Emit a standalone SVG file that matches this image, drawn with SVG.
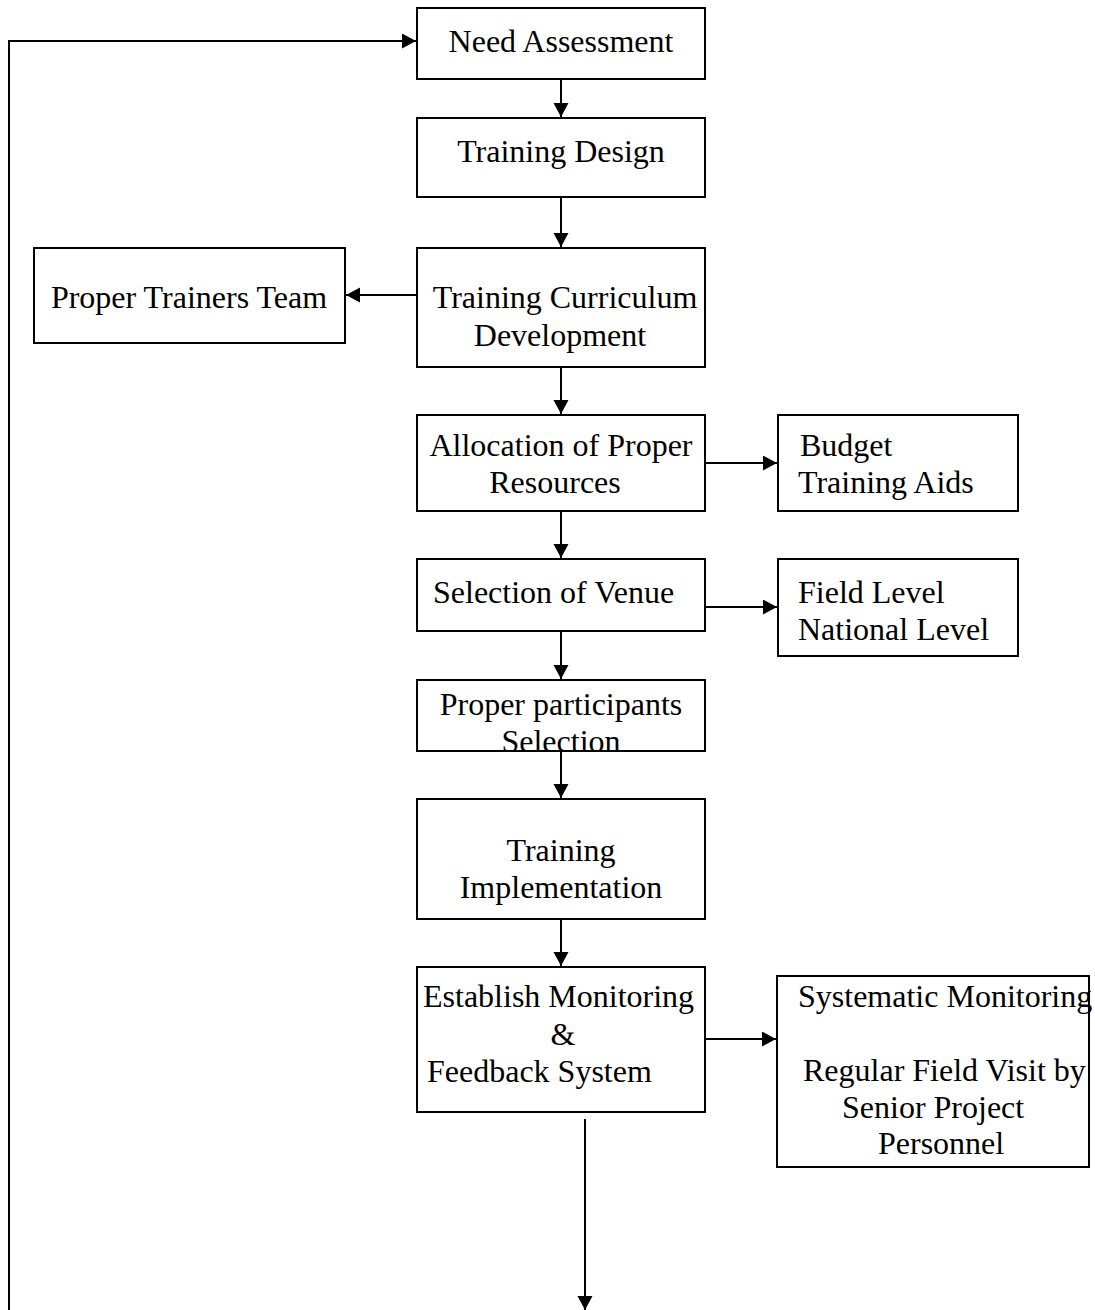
<svg xmlns="http://www.w3.org/2000/svg" width="1095" height="1310" viewBox="0 0 1095 1310">
<style>
.box{fill:#fff;stroke:#000;stroke-width:2}
.t{font-family:"Liberation Serif","Times New Roman",serif;font-size:32px;fill:#000}
.c{text-anchor:middle}
.ln{fill:none;stroke:#000;stroke-width:2}
</style>
<defs>
<marker id="ah" markerUnits="userSpaceOnUse" markerWidth="16" markerHeight="16" refX="14" refY="7.5" orient="auto">
<path d="M0,0 L14,7.5 L0,15 Z" fill="#000"/>
</marker>
</defs>
<rect width="1095" height="1310" fill="#fff"/>
<g id="connectors">
<polyline class="ln" points="9,1310 9,41 416,41" marker-end="url(#ah)"/>
<line class="ln" x1="561" y1="79" x2="561" y2="117" marker-end="url(#ah)"/>
<line class="ln" x1="561" y1="197" x2="561" y2="247" marker-end="url(#ah)"/>
<line class="ln" x1="417" y1="295" x2="346" y2="295" marker-end="url(#ah)"/>
<line class="ln" x1="561" y1="367" x2="561" y2="414" marker-end="url(#ah)"/>
<line class="ln" x1="706" y1="463" x2="777" y2="463" marker-end="url(#ah)"/>
<line class="ln" x1="561" y1="511" x2="561" y2="558" marker-end="url(#ah)"/>
<line class="ln" x1="706" y1="607" x2="777" y2="607" marker-end="url(#ah)"/>
<line class="ln" x1="561" y1="631" x2="561" y2="679" marker-end="url(#ah)"/>
<line class="ln" x1="561" y1="751" x2="561" y2="798" marker-end="url(#ah)"/>
<line class="ln" x1="561" y1="919" x2="561" y2="966" marker-end="url(#ah)"/>
<line class="ln" x1="706" y1="1039" x2="776" y2="1039" marker-end="url(#ah)"/>
<line class="ln" x1="585" y1="1119" x2="585" y2="1310" marker-end="url(#ah)"/>
</g>
<g id="need-assessment">
<rect class="box" x="417" y="8" width="288" height="71"/>
<text class="t c" x="561" y="52">Need Assessment</text>
</g>
<g id="training-design">
<rect class="box" x="417" y="118" width="288" height="79"/>
<text class="t c" x="561" y="162">Training Design</text>
</g>
<g id="proper-trainers-team">
<rect class="box" x="34" y="248" width="311" height="95"/>
<text class="t c" x="189" y="308">Proper Trainers Team</text>
</g>
<g id="curriculum-development">
<rect class="box" x="417" y="248" width="288" height="119"/>
<text class="t c" x="565" y="308">Training Curriculum</text>
<text class="t c" x="560" y="346">Development</text>
</g>
<g id="allocation-resources">
<rect class="box" x="417" y="415" width="288" height="96"/>
<text class="t c" x="561" y="456">Allocation of Proper</text>
<text class="t c" x="555" y="493">Resources</text>
</g>
<g id="budget-aids">
<rect class="box" x="778" y="415" width="240" height="96"/>
<text class="t" x="800" y="456">Budget</text>
<text class="t" x="798" y="493">Training Aids</text>
</g>
<g id="selection-venue">
<rect class="box" x="417" y="559" width="288" height="72"/>
<text class="t" x="433" y="603">Selection of Venue</text>
</g>
<g id="venue-levels">
<rect class="box" x="778" y="559" width="240" height="97"/>
<text class="t" x="798" y="603">Field Level</text>
<text class="t" x="798" y="640">National Level</text>
</g>
<g id="participants-selection">
<rect class="box" x="417" y="680" width="288" height="71"/>
<text class="t c" x="561" y="715">Proper participants</text>
<text class="t c" x="561" y="752">Selection</text>
</g>
<g id="training-implementation">
<rect class="box" x="417" y="799" width="288" height="120"/>
<text class="t c" x="561" y="861">Training</text>
<text class="t c" x="561" y="898">Implementation</text>
</g>
<g id="monitoring-feedback">
<rect class="box" x="417" y="967" width="288" height="145"/>
<text class="t" x="423" y="1007">Establish Monitoring</text>
<text class="t c" x="563" y="1045">&amp;</text>
<text class="t" x="427" y="1082">Feedback System</text>
</g>
<g id="systematic-monitoring">
<rect class="box" x="777" y="976" width="312" height="191"/>
<text class="t" x="798" y="1007">Systematic Monitoring</text>
<text class="t" x="803" y="1081">Regular Field Visit by</text>
<text class="t" x="842" y="1118">Senior Project</text>
<text class="t" x="878" y="1154">Personnel</text>
</g>
</svg>
